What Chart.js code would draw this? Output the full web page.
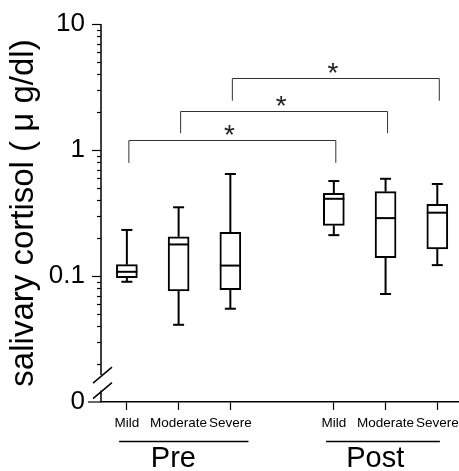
<!DOCTYPE html>
<html>
<head>
<meta charset="utf-8">
<script src="https://cdn.jsdelivr.net/npm/chart.js@4.4.1/dist/chart.umd.min.js"></script>
<style>
  html, body { margin: 0; padding: 0; background: #fff; }
</style>
</head>
<body>
<canvas id="chart" width="459" height="471"></canvas>
<script>
const categories = ["Mild", "Moderate", "Severe"];
const phases = ["Pre", "Post"];
// order: Pre Mild, Pre Moderate, Pre Severe, Post Mild, Post Moderate, Post Severe
const whiskerLow = [0.090, 0.041, 0.055, 0.211, 0.072, 0.122];
const q1 = [0.097, 0.076, 0.078, 0.252, 0.140, 0.164];
const median = [0.108, 0.178, 0.121, 0.410, 0.288, 0.318];
const q3 = [0.123, 0.205, 0.222, 0.453, 0.467, 0.371];
const whiskerHigh = [0.232, 0.351, 0.645, 0.567, 0.591, 0.537];
// significance brackets, Pre vs Post of the same category
const bracketTop = [1.2, 2.05, 3.73];
const bracketFoot = [0.79, 1.36, 2.46];
const yLabels = { 10: "10", 1: "1", 0.1: "0.1", 0.01: "0" };

const FONT = '"Liberation Sans", Arial, sans-serif';
// one empty slot between the Pre and Post groups
const slot = i => Math.floor(i / 3) * 4 + (i % 3);

const boxPlugin = {
  id: "boxParts",
  afterDatasetsDraw(chart) {
    const { ctx, scales: { x, y }, chartArea } = chart;
    const meta = chart.getDatasetMeta(0);
    ctx.save();
    ctx.strokeStyle = "#000";
    ctx.lineWidth = 2;
    meta.data.forEach((bar, i) => {
      const cx = bar.x, hw = bar.width / 2;
      const line = (x1, y1, x2, y2) => {
        ctx.beginPath(); ctx.moveTo(x1, y1); ctx.lineTo(x2, y2); ctx.stroke();
      };
      line(cx, y.getPixelForValue(q3[i]), cx, y.getPixelForValue(whiskerHigh[i]));
      line(cx, y.getPixelForValue(q1[i]), cx, y.getPixelForValue(whiskerLow[i]));
      line(cx - 5.5, y.getPixelForValue(whiskerHigh[i]), cx + 5.5, y.getPixelForValue(whiskerHigh[i]));
      line(cx - 5.5, y.getPixelForValue(whiskerLow[i]), cx + 5.5, y.getPixelForValue(whiskerLow[i]));
      line(cx - hw, y.getPixelForValue(median[i]), cx + hw, y.getPixelForValue(median[i]));
    });

    // brackets and asterisks
    ctx.strokeStyle = "#333";
    ctx.lineWidth = 1;
    ctx.fillStyle = "#222";
    ctx.font = "28px " + FONT;
    ctx.textAlign = "center";
    ctx.textBaseline = "alphabetic";
    bracketTop.forEach((top, c) => {
      const xl = x.getPixelForValue(slot(c)) + 2;
      const xr = x.getPixelForValue(slot(c + 3)) + 2;
      const yt = Math.round(y.getPixelForValue(top)) + 0.5;
      const yf = y.getPixelForValue(bracketFoot[c]);
      ctx.beginPath();
      ctx.moveTo(xl, yf); ctx.lineTo(xl, yt); ctx.lineTo(xr, yt); ctx.lineTo(xr, yf);
      ctx.stroke();
      const m = ctx.measureText("*");
      const mid = (m.actualBoundingBoxAscent - m.actualBoundingBoxDescent) / 2;
      ctx.fillText("*", (xl + xr) / 2 - 3, yt - 11 + mid);
    });

    // y axis line with a break between 0.02 and 0
    const ax = chartArea.left;
    const p02 = y.getPixelForValue(0.02), p0 = y.getPixelForValue(0.01);
    const s1 = p02 + (p0 - p02) * 0.29, s2 = p02 + (p0 - p02) * 0.70;
    ctx.strokeStyle = "#000";
    ctx.lineWidth = 1.5;
    ctx.beginPath();
    ctx.moveTo(ax, chartArea.top); ctx.lineTo(ax, s1);
    ctx.moveTo(ax, s2); ctx.lineTo(ax, chartArea.bottom);
    ctx.moveTo(ax - 8, s1 + 8); ctx.lineTo(ax + 11, s1 - 8);
    ctx.moveTo(ax - 8, s2 + 8); ctx.lineTo(ax + 11, s2 - 8);
    ctx.stroke();

    // y ticks: long at decades, short in between
    ctx.lineWidth = 1.2;
    y.ticks.forEach(t => {
      if (t.value < 0.015 && t.value > 0.005) return;
      const py = Math.round(y.getPixelForValue(t.value)) + 0.5;
      const len = yLabels[t.value] ? 9 : 4;
      ctx.beginPath(); ctx.moveTo(ax - len, py); ctx.lineTo(ax, py); ctx.stroke();
    });
    // tick at 0 joins the x axis
    ctx.beginPath(); ctx.moveTo(ax - 13, p0); ctx.lineTo(ax, p0); ctx.stroke();

    // group labels with underlines
    ctx.lineWidth = 1.3;
    ctx.fillStyle = "#000";
    ctx.font = "29px " + FONT;
    const groupSpan = [[-0.15, 2.35, 0.9], [3.85, 6.05, 4.8]];
    phases.forEach((p, g) => {
      const [a, b, mid] = groupSpan[g];
      ctx.beginPath();
      ctx.moveTo(x.getPixelForValue(a), 441.5);
      ctx.lineTo(x.getPixelForValue(b), 441.5);
      ctx.stroke();
      ctx.fillText(p, x.getPixelForValue(mid), 467);
    });
    ctx.restore();
  }
};

new Chart(document.getElementById("chart"), {
  type: "bar",
  data: {
    datasets: [{
      data: q1.map((v, i) => ({ x: slot(i), y: [v, q3[i]] })),
      backgroundColor: "#fff",
      borderColor: "#000",
      borderWidth: 2,
      borderSkipped: false,
      barThickness: 21
    }]
  },
  options: {
    responsive: false,
    animation: false,
    layout: { autoPadding: false, padding: { top: 24, right: 1, left: 0, bottom: 0 } },
    plugins: { legend: { display: false }, tooltip: { enabled: false } },
    scales: {
      x: {
        type: "linear",
        min: -0.5,
        max: 6.4,
        offset: false,
        afterBuildTicks: s => { s.ticks = [0, 1, 2, 4, 5, 6].map(v => ({ value: v })); },
        afterFit: s => { s.height = 69; s.paddingLeft = 0; s.paddingRight = 0; },
        grid: { drawOnChartArea: false, offset: false, tickLength: 8, tickColor: "#000", tickWidth: 1.2 },
        border: { display: true, color: "#000", width: 1.5 },
        ticks: {
          autoSkip: false,
          maxRotation: 0,
          padding: 5,
          color: "#000",
          font: { family: FONT, size: 13.5 },
          callback: v => categories[v % 4]
        }
      },
      y: {
        type: "logarithmic",
        min: 0.01,
        max: 10,
        afterBuildTicks: s => {
          const t = [];
          [0.01, 0.1, 1].forEach(d => {
            for (let k = 1; k <= 9; k++) t.push({ value: +(d * k).toPrecision(3) });
          });
          t.push({ value: 10 });
          s.ticks = t;
        },
        afterFit: s => { s.width = 101; s.paddingTop = 0; s.paddingBottom = 0; },
        grid: { drawOnChartArea: false, tickLength: 9, tickColor: "rgba(0,0,0,0)" },
        border: { display: false },
        ticks: {
          autoSkip: false,
          padding: 7,
          color: "#000",
          font: { family: FONT, size: 26 },
          callback: v => yLabels[v] || ""
        },
        title: {
          display: true,
          text: "salivary cortisol ( \u03bc g/dl)",
          color: "#000",
          font: { family: FONT, size: 33 },
          padding: { top: 4, bottom: 0 }
        }
      }
    }
  },
  plugins: [boxPlugin]
});
</script>
</body>
</html>
